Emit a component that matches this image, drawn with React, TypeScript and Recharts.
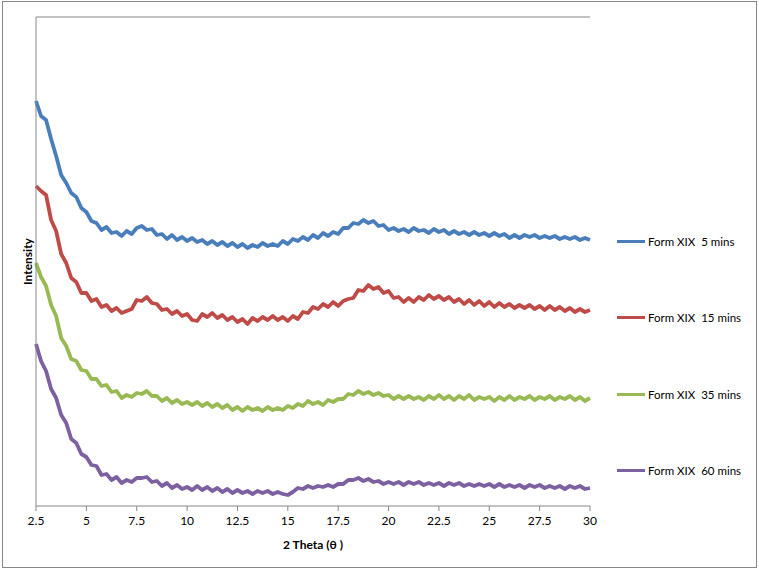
import React from 'react';
import {
  LineChart,
  Line,
  XAxis,
  YAxis,
  ReferenceLine,
  Label,
} from 'recharts';

// 2θ grid: 2.5 .. 30 in 0.25 steps
const thetaStart = 2.5;
const thetaStep = 0.25;

const xTicks = [2.5, 5, 7.5, 10, 12.5, 15, 17.5, 20, 22.5, 25, 27.5, 30];

// intensities (arbitrary units)
const form5 = [
  405, 390, 386, 367, 350, 331, 323, 313, 309, 298, 294, 285, 283, 276, 279, 273, 274, 270, 275, 272,
  278, 280, 276, 277, 271, 272, 267, 271, 266, 269, 265, 268, 264, 266, 262, 265, 261, 264, 260, 263,
  259, 262, 258, 261, 259, 263, 260, 262, 260, 265, 262, 267, 265, 269, 266, 271, 268, 273, 270, 274,
  272, 278, 278, 283, 282, 286, 283, 285, 280, 281, 276, 278, 275, 277, 274, 278, 275, 276, 273, 277,
  274, 276, 272, 275, 272, 274, 271, 274, 271, 273, 270, 273, 270, 272, 268, 271, 268, 271, 269, 271,
  268, 270, 268, 270, 267, 269, 267, 269, 266, 268, 266,
];

const form15 = [
  320, 315, 311, 286, 275, 252, 243, 228, 224, 213, 213, 205, 207, 199, 201, 195, 198, 193, 195, 197,
  206, 205, 209, 203, 202, 196, 197, 192, 195, 190, 192, 186, 185, 192, 189, 193, 188, 191, 186, 189,
  184, 187, 182, 188, 185, 189, 186, 190, 186, 189, 185, 190, 187, 194, 193, 199, 197, 202, 199, 204,
  200, 205, 207, 208, 216, 215, 221, 217, 219, 213, 215, 208, 209, 204, 208, 204, 209, 206, 211, 207,
  210, 206, 209, 204, 207, 202, 206, 201, 205, 200, 204, 199, 203, 199, 202, 198, 201, 198, 201, 197,
  200, 196, 200, 196, 199, 195, 198, 194, 197, 194, 196,
];

const form35 = [
  243, 229, 220, 201, 190, 168, 160, 147, 145, 136, 135, 127, 127, 120, 121, 114, 115, 108, 111, 109,
  113, 112, 115, 110, 110, 105, 108, 103, 106, 102, 104, 101, 104, 100, 103, 99, 102, 98, 101, 96,
  99, 95, 99, 96, 98, 95, 99, 96, 98, 96, 100, 98, 102, 100, 105, 102, 104, 101, 106, 104,
  107, 107, 112, 111, 115, 112, 114, 111, 113, 110, 111, 107, 110, 107, 110, 107, 109, 106, 110, 107,
  111, 107, 110, 106, 110, 107, 111, 106, 109, 107, 109, 105, 109, 106, 110, 106, 109, 107, 110, 106,
  109, 107, 110, 106, 109, 107, 110, 106, 109, 105, 108,
];

const form60 = [
  162, 145, 135, 117, 108, 91, 83, 67, 63, 52, 49, 41, 40, 31, 32, 26, 29, 23, 26, 24,
  28, 28, 29, 24, 25, 20, 23, 18, 21, 17, 19, 16, 20, 16, 19, 15, 18, 14, 17, 13,
  16, 13, 15, 12, 15, 13, 15, 12, 14, 12, 11, 14, 18, 17, 20, 18, 20, 19, 21, 19,
  22, 22, 26, 26, 28, 25, 27, 24, 25, 22, 24, 22, 24, 21, 24, 22, 24, 21, 23, 21,
  23, 20, 23, 21, 23, 20, 22, 20, 22, 20, 22, 19, 22, 19, 21, 19, 21, 18, 21, 19,
  21, 18, 20, 18, 20, 17, 20, 18, 20, 17, 18,
];

const seriesNames = ['Form XIX  5 mins', 'Form XIX  15 mins', 'Form XIX  35 mins', 'Form XIX  60 mins'];
const seriesColors = ['#4A7EBB', '#BE4B48', '#98B954', '#7D60A0'];

const data = form5.map((v, i) => ({
  theta: +(thetaStart + i * thetaStep).toFixed(2),
  f5: v,
  f15: form15[i],
  f35: form35[i],
  f60: form60[i],
}));

const keys = ['f5', 'f15', 'f35', 'f60'];

const font = 'Lato, "Open Sans", sans-serif';

// legend sits beside the plot like Excel's, outside the chart's layout
const ChartLegend = () => (
  <div
    style={{
      position: 'absolute',
      left: 617,
      top: 233,
      fontFamily: font,
      fontSize: 11.5,
      color: '#000',
    }}
  >
    {seriesNames.map((name, i) => (
      <div key={name} style={{ height: 76.5 }}>
        <div style={{ display: 'flex', alignItems: 'center', height: 16 }}>
          <span style={{ width: 28, height: 3, background: seriesColors[i], marginRight: 3 }} />
          <span style={{ whiteSpace: 'pre' }}>{name}</span>
        </div>
      </div>
    ))}
  </div>
);

const App: React.FC = () => {
  return (
    <div
      style={{
        position: 'absolute',
        left: 0,
        top: 0,
        width: 759,
        height: 570,
        background: '#fff',
      }}
    >
      <div
        style={{
          position: 'absolute',
          left: 2,
          top: 1,
          width: 753,
          height: 565,
          border: '1px solid #868686',
        }}
      />
      <LineChart
        width={759}
        height={570}
        data={data}
        margin={{ top: 17, right: 169, left: 0, bottom: 0 }}
        style={{ position: 'absolute', left: 0, top: 0 }}
      >
        <XAxis
          dataKey="theta"
          type="number"
          domain={[2.5, 30]}
          ticks={xTicks}
          interval={0}
          stroke="#868686"
          tickSize={5}
          tickMargin={5}
          tick={{ fill: '#000', fontSize: 12, fontFamily: font }}
          height={64}
        >
          <Label
            value="2 Theta (θ  )"
            position="insideTop"
            offset={34}
            style={{ fill: '#000', fontSize: 12, fontWeight: 700, fontFamily: font }}
          />
        </XAxis>
        <YAxis
          type="number"
          domain={[0, 489]}
          width={36}
          tick={false}
          tickLine={false}
          stroke="#868686"
        >
          <Label
            value="Intensity"
            angle={-90}
            position="center"
            dx={10}
            style={{ fill: '#000', fontSize: 12, fontWeight: 700, fontFamily: font }}
          />
        </YAxis>
        <ReferenceLine y={489} stroke="#868686" strokeWidth={1} />
        {keys.map((k, i) => (
          <Line
            key={k}
            type="linear"
            dataKey={k}
            name={seriesNames[i]}
            stroke={seriesColors[i]}
            strokeWidth={3.8}
            strokeLinejoin="round"
            dot={false}
            isAnimationActive={false}
          />
        ))}
      </LineChart>
      <ChartLegend />
    </div>
  );
};

export default App;
